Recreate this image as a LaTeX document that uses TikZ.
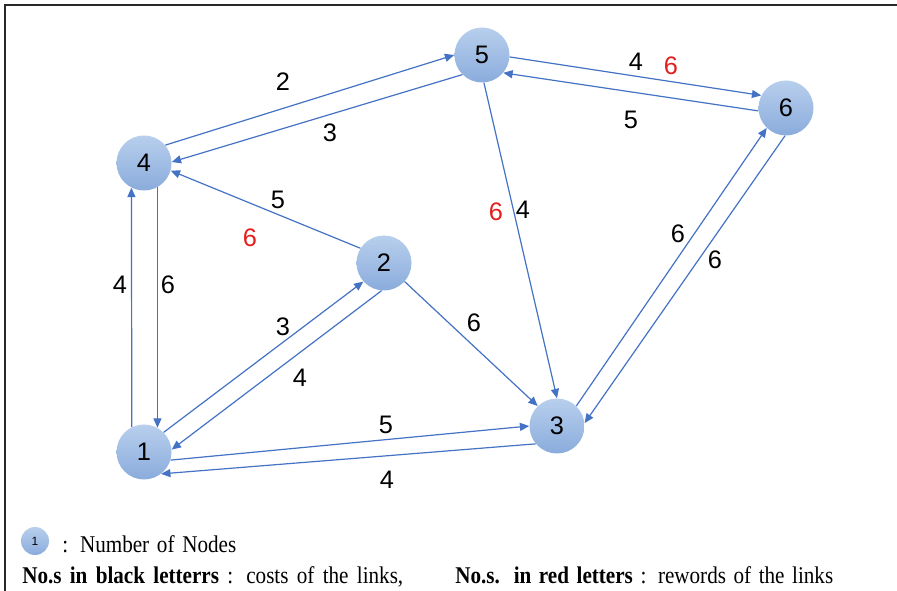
\documentclass[tikz,border=0pt]{standalone}
\usepackage{fontspec}
\setmainfont{Liberation Serif}
\newfontfamily\labelfont{Liberation Sans}
\newfontfamily\notefont{Liberation Serif}[FakeStretch=0.88]
\usetikzlibrary{arrows.meta}
\definecolor{linkblue}{RGB}{68,114,196}
\definecolor{nodetop}{RGB}{184,207,237}
\definecolor{nodebot}{RGB}{138,172,220}
\definecolor{rewardred}{RGB}{226,30,30}
\definecolor{framegray}{RGB}{40,40,40}

\begin{document}
\begin{tikzpicture}[x=0.75pt,y=-0.75pt,
  netnode/.style={circle, minimum size=41.25pt, inner sep=0pt, draw=none,
    top color=nodetop, bottom color=nodebot,
    font=\labelfont\fontsize{19}{19}\selectfont},
  link/.style={draw=linkblue, line width=0.9pt, -{Triangle[length=7pt,width=6pt]}},
  cost/.style={font=\labelfont\fontsize{19}{19}\selectfont, text=black, inner sep=0pt},
  reward/.style={cost, text=rewardred},
  keytext/.style={font=\notefont\fontsize{18}{18}\selectfont, inner sep=0pt, anchor=base west}]

\useasboundingbox (0,0) rectangle (897,591);
\fill[white] (0,0) rectangle (897,591);

% frame
\draw[framegray, line width=1.5pt] (5,591) -- (5,5) -- (897,5);

% network nodes
\node[netnode] (n5) at (482,55) {5};
\node[netnode] (n6) at (786,108) {6};
\node[netnode] (n4) at (144,163) {4};
\node[netnode] (n2) at (384,263) {2};
\node[netnode] (n1) at (144,452) {1};
\node[netnode] (n3) at (557,426) {3};

% links
\draw[link] (n4.40) -- (n5.180);
\draw[link] (n5.225) -- (n4.2);
\draw[link] (n5.-4) -- (n6.153);
\draw[link] (n6.186) -- (n5.-40);
\draw[link] (n2.148) -- (n4.-16);
\draw[link] (n5.-86) -- (n3.90);
\draw[link] (n3.46) -- (n6.226);
\draw[link] (n6.268) -- (n3.6);
\draw[link] (n1.116.4) -- (n4.243.6);
\draw[link] (n4.-61.2) -- (n1.61.2);
\draw[link] (n1.45) -- (n2.222);
\draw[link] (n2.265) -- (n1.5);
\draw[link] (n2.-42) -- (n3.134);
\draw[link] (n1.-17) -- (n3.180);
\draw[link] (n3.220) -- (n1.-52);

% costs and rewards
\node[cost] (c45) at (283,82) {2};
\node[cost] (c54) at (330,133) {3};
\node[cost] (c56) at (636,62) {4};
\node[reward] (r56) at (671,66) {6};
\node[cost] (c65) at (631,120) {5};
\node[cost] (c24) at (278,200) {5};
\node[reward] (r24) at (250,238) {6};
\node[reward] (r53) at (496,212) {6};
\node[cost] (c53) at (523,210) {4};
\node[cost] (c36) at (678,234) {6};
\node[cost] (c63) at (715,260) {6};
\node[cost] (c14) at (120,285) {4};
\node[cost] (c41) at (168,285) {6};
\node[cost] (c12) at (283,327) {3};
\node[cost] (c21) at (300,378) {4};
\node[cost] (c23) at (474,323) {6};
\node[cost] (c13) at (386,425) {5};
\node[cost] (c31) at (387,480) {4};

% key
\node[netnode, minimum size=21pt, font=\labelfont\fontsize{9}{9}\selectfont] (key) at (35,541) {1};
\node[keytext] (keylabel) at (62,553) {\makebox[130.5pt][s]{: Number of Nodes}};
\node[keytext] (costnote) at (22,584) {\makebox[285.75pt][s]{\textbf{No.s in black letterrs} : costs of the links,}};
\node[keytext] (rewardnote) at (455,584) {\makebox[283.5pt][s]{\textbf{No.s. in red letters} : rewords of the links}};
\end{tikzpicture}
\end{document}
